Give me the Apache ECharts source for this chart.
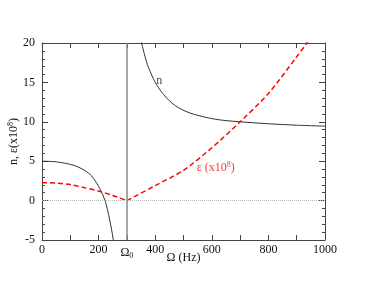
<!DOCTYPE html>
<html>
<head>
<meta charset="utf-8">
<script src="https://cdn.jsdelivr.net/npm/echarts@6/dist/echarts.min.js"></script>
<style>html,body{margin:0;padding:0;background:#fff;}#c{width:366px;height:283px;}</style>
</head>
<body>
<div id="c"></div>
<script>
// n, left branch (below resonance)
var nLeftX = [0, 50, 100, 125, 150, 175, 200, 215, 225, 235, 245, 252, 258];
var nLeftY = [5.0, 4.92, 4.6, 4.3, 3.85, 3.15, 1.8, 0.72, -0.24, -1.75, -3.5, -5.0, -6.6];
// n, right branch (above resonance)
var nRightX = [348, 352, 358, 364, 372, 382, 393, 405, 420, 441, 460, 484, 520, 558, 600, 650, 700, 800, 900, 1000];
var nRightY = [20.5, 20.0, 19.1, 18.3, 17.3, 16.4, 15.5, 14.7, 13.9, 13.0, 12.35, 11.75, 11.15, 10.75, 10.4, 10.15, 10.0, 9.75, 9.57, 9.45];
// epsilon (x10^8)
var epsLeftX = [0, 50, 100, 150, 200, 250, 300];
var epsLeftY = [2.27, 2.22, 2.03, 1.64, 1.22, 0.65, 0];
var epsRightX = [300, 400, 500, 600, 700, 800, 900, 950];
var epsRightY = [0, 1.9, 3.85, 6.7, 10.0, 13.6, 18.25, 20.7];
// resonance frequency
var omega0 = 300;
// x tick labels (every 200) + Omega0
var xTickLabels = { 0: '0', 200: '200', 400: '400', 600: '600', 800: '800', 1000: '1000' };
// annotations
var nLabelPos = [414, 15.2];
var epsLabelPos = [614, 4.1];

function pairs(xs, ys) { return xs.map(function (x, i) { return [x, ys[i]]; }); }

var FONT = 'Liberation Serif';
var axisCol = '#444';
var chart = echarts.init(document.getElementById('c'), null, { renderer: 'canvas' });
chart.setOption({
  animation: false,
  backgroundColor: '#fff',
  textStyle: { fontFamily: FONT },
  grid: { left: 42, right: 41, top: 43, bottom: 43, containLabel: false, outerBoundsMode: 'none' },
  xAxis: [{
    type: 'value', min: 0, max: 1000, interval: 100, position: 'bottom',
    axisLine: { show: true, onZero: false, lineStyle: { color: axisCol, width: 1 } },
    axisTick: { show: true, inside: true, length: 5, lineStyle: { color: axisCol } },
    splitLine: { show: false },
    axisLabel: {
      color: '#111', fontFamily: FONT, fontSize: 12, margin: 4,
      formatter: function (v) {
        if (v === omega0) return '{o|Ω}{s|0}';
        return xTickLabels[v] !== undefined ? xTickLabels[v] : '';
      },
      rich: {
        o: { fontFamily: FONT, fontSize: 12, color: '#111', padding: [1, 0, 0, 0] },
        s: { fontFamily: FONT, fontSize: 8, color: '#111', padding: [8, 0, 0, 0] }
      }
    },
    name: 'Ω (Hz)', nameLocation: 'middle', nameGap: 12, nameMoveOverlap: false,
    nameTextStyle: { fontFamily: FONT, fontSize: 12, color: '#111' }
  }, {
    type: 'value', min: 0, max: 1000, interval: 100, position: 'top',
    axisLine: { show: true, onZero: false, lineStyle: { color: axisCol, width: 1 } },
    axisTick: { show: true, inside: true, length: 5, lineStyle: { color: axisCol } },
    axisLabel: { show: false }, splitLine: { show: false }
  }],
  yAxis: [{
    type: 'value', min: -5, max: 20, interval: 5, position: 'left',
    axisLine: { show: true, onZero: false, lineStyle: { color: axisCol, width: 1 } },
    axisTick: { show: true, inside: true, length: 6, lineStyle: { color: axisCol } },
    minorTick: { show: true, splitNumber: 5, length: 3, lineStyle: { color: axisCol } },
    splitLine: { show: false },
    axisLabel: { color: '#111', fontFamily: FONT, fontSize: 12, margin: 7 },
    name: '{t|n, ε(x10}{s|8}{t|)}', nameLocation: 'middle', nameGap: 21, nameRotate: 90, nameMoveOverlap: false,
    nameTextStyle: {
      fontFamily: FONT, fontSize: 12, color: '#111',
      rich: {
        t: { fontFamily: FONT, fontSize: 12, color: '#111' },
        s: { fontFamily: FONT, fontSize: 8, color: '#111', padding: [0, 0, 6, 0] }
      }
    }
  }, {
    type: 'value', min: -5, max: 20, interval: 5, position: 'right',
    axisLine: { show: true, onZero: false, lineStyle: { color: axisCol, width: 1 } },
    axisTick: { show: true, inside: true, length: 6, lineStyle: { color: axisCol } },
    minorTick: { show: true, splitNumber: 5, length: 3, lineStyle: { color: axisCol } },
    axisLabel: { show: false }, splitLine: { show: false }
  }],
  series: [
    {
      type: 'line', name: 'n-', data: pairs(nLeftX, nLeftY), showSymbol: false, smooth: 0.3,
      lineStyle: { color: '#333', width: 1 }, clip: true, z: 3,
      markLine: {
        silent: true, symbol: ['none', 'none'], label: { show: false },
        data: [
          { xAxis: omega0, lineStyle: { color: '#888', width: 1.5, type: 'solid' } },
          { yAxis: 0, lineStyle: { color: '#bbb', width: 1, type: [1, 1] } }
        ]
      }
    },
    {
      type: 'line', name: 'n+', data: pairs(nRightX, nRightY), showSymbol: false, smooth: 0.3,
      lineStyle: { color: '#333', width: 1 }, clip: true, z: 3
    },
    {
      type: 'line', name: 'eps-', data: pairs(epsLeftX, epsLeftY), showSymbol: false, smooth: 0.3,
      lineStyle: { color: '#ff0000', width: 1.5, type: [5, 3] }, clip: true, z: 4
    },
    {
      type: 'line', name: 'eps+', data: pairs(epsRightX, epsRightY), showSymbol: false, smooth: 0.3,
      lineStyle: { color: '#ff0000', width: 1.5, type: [5, 3] }, clip: true, z: 4
    },
    {
      type: 'scatter', data: [nLabelPos], symbolSize: 0, silent: true,
      label: { show: true, position: 'inside', formatter: 'n', fontFamily: FONT, fontSize: 12, color: '#111' }
    },
    {
      type: 'scatter', data: [epsLabelPos], symbolSize: 0, silent: true,
      label: {
        show: true, position: 'inside', formatter: '{t|ε (x10}{s|8}{t|)}',
        rich: {
          t: { fontFamily: FONT, fontSize: 12, color: '#ff0000' },
          s: { fontFamily: FONT, fontSize: 8, color: '#ff0000', padding: [0, 0, 7, 0] }
        }
      }
    }
  ]
});
</script>
</body>
</html>
